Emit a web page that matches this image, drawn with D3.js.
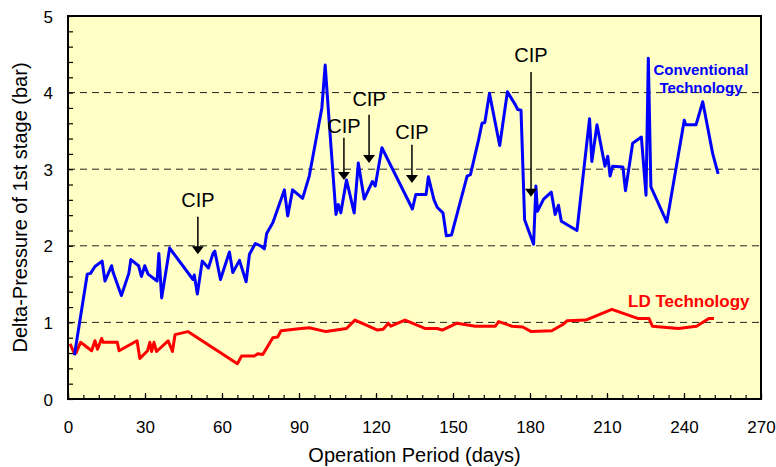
<!DOCTYPE html>
<html>
<head>
<meta charset="utf-8">
<script src="https://cdn.jsdelivr.net/npm/d3@7"></script>
<style>
  body { margin: 0; background: #fff; }
  svg text { font-family: "Liberation Sans", Arial, sans-serif; }
</style>
</head>
<body>
<svg id="chart" width="776" height="467"></svg>
<script>
// Conventional technology: [day, delta-pressure (bar)]
var conventional = [
  [2.5,0.57],[7.5,1.63],[8.8,1.64],[10.5,1.73],[13.3,1.80],[14.4,1.54],[17.0,1.74],[17.6,1.65],
  [20.8,1.35],[23.7,1.64],[24.5,1.82],[27.5,1.74],[28.6,1.60],[29.9,1.74],[31.2,1.63],[34.7,1.54],
  [35.4,1.90],[36.5,1.32],[39.6,1.97],[48.7,1.56],[49.2,1.62],[50.4,1.37],[52.3,1.80],[54.7,1.71],
  [56.5,1.90],[57.2,1.93],[59.4,1.56],[62.9,1.92],[64.2,1.65],[66.8,1.81],[69.4,1.53],[70.7,1.89],
  [73.0,2.03],[75.0,2.00],[76.5,1.96],[77.4,2.16],[79.8,2.30],[84.3,2.73],[85.6,2.39],[87.5,2.73],
  [91.4,2.62],[94.0,2.91],[98.9,3.80],[100.2,4.36],[101.8,3.60],[104.4,2.41],[105.3,2.54],[106.3,2.43],
  [108.5,2.86],[111.5,2.43],[113.1,3.08],[115.4,2.61],[118.6,2.84],[119.7,2.78],[122.3,3.28],[134.2,2.48],
  [135.5,2.67],[139.5,2.67],[140.4,2.90],[142.6,2.60],[143.9,2.50],[146.1,2.43],[147.4,2.13],[149.4,2.14],
  [155.5,2.91],[156.8,2.93],[160.0,3.39],[161.3,3.60],[162.4,3.61],[164.2,3.99],[168.2,3.31],[171.2,4.01],
  [174.3,3.84],[175.2,3.78],[176.5,3.77],[177.9,2.34],[181.4,2.02],[182.3,2.78],[182.9,2.45],[185.3,2.61],
  [188.3,2.70],[189.8,2.41],[191.1,2.53],[192.2,2.32],[198.3,2.20],[203.2,3.66],[204.1,3.10],[206.1,3.58],
  [209.2,3.04],[210.3,3.17],[211.2,2.91],[212.2,3.04],[216.2,3.03],[217.2,2.72],[220.0,3.34],[223.4,3.42],
  [225.2,2.66],[226.1,4.45],[227.1,2.77],[233.3,2.31],[240.1,3.64],[240.7,3.58],[244.7,3.58],[247.3,3.88],
  [251.2,3.20],[253.3,2.94]
];

// LD technology
var ld = [
  [0.8,0.72],[2.3,0.61],[3.1,0.60],[4.9,0.74],[9.2,0.63],[10.5,0.76],[11.5,0.65],[13.1,0.79],
  [13.7,0.74],[19.2,0.74],[19.9,0.63],[26.9,0.76],[28.0,0.53],[31.0,0.63],[31.9,0.74],[32.6,0.62],
  [33.5,0.74],[34.5,0.62],[39.0,0.76],[40.7,0.62],[41.7,0.84],[46.7,0.88],[66.0,0.46],[67.6,0.56],
  [72.6,0.56],[73.9,0.59],[75.9,0.58],[79.8,0.80],[81.7,0.81],[83.0,0.89],[90.8,0.92],[94.0,0.93],
  [100.5,0.88],[108.5,0.92],[111.8,1.03],[120.6,0.90],[122.8,0.91],[124.8,0.99],[125.8,0.95],[131.3,1.03],
  [139.3,0.92],[143.8,0.92],[145.8,0.90],[151.6,0.99],[158.7,0.95],[166.5,0.95],[167.8,1.01],[173.0,0.95],
  [177.2,0.94],[180.5,0.88],[188.5,0.89],[193.1,0.98],[194.4,1.02],[201.7,1.03],[211.9,1.17],[222.2,1.05],
  [226.4,1.05],[227.7,0.95],[237.8,0.92],[244.9,0.95],[249.7,1.05],[251.7,1.05]
];

// CIP marks: day, text baseline, arrow top, arrow tip (bar)
var cipDays = [50.6, 107.5, 117.3, 134.0, 180.4];
var cipText = [2.51, 3.47, 3.83, 3.39, 4.40];
var cipTop  = [2.38, 3.41, 3.71, 3.32, 4.27];
var cipTip  = [1.89, 2.86, 3.08, 2.82, 2.64];

var xTicks = d3.range(0, 271, 30);
var yTicks = [0, 1, 2, 3, 4, 5];
var gridLines = [1, 2, 3, 4];

var margin = {top: 16, right: 15, bottom: 68, left: 68},
    svg = d3.select("#chart"),
    width = 776 - margin.left - margin.right,
    height = 467 - margin.top - margin.bottom,
    g = svg.append("g").attr("transform", "translate(" + margin.left + "," + margin.top + ")");

var x = d3.scaleLinear().domain([0, 270]).range([0, width]);
var y = d3.scaleLinear().domain([0, 5]).range([height, 0]);

g.append("rect")
  .attr("width", width).attr("height", height)
  .style("fill", "#ffffc6");

// dashed grid
g.selectAll(".grid").data(gridLines).enter().append("line")
  .attr("x1", 0).attr("x2", width)
  .attr("y1", function(d) { return y(d); }).attr("y2", function(d) { return y(d); })
  .style("stroke", "#222").style("stroke-width", 1).style("stroke-dasharray", "7,5");

// minor ticks (inside)
g.append("g").attr("transform", "translate(0," + height + ")")
  .call(d3.axisTop(x).tickValues(d3.range(0, 271, 6)).tickSize(4).tickFormat(""))
  .call(function(a) { a.select(".domain").remove(); });
g.append("g").attr("transform", "translate(0," + height + ")")
  .call(d3.axisTop(x).tickValues(xTicks).tickSize(6).tickFormat(""))
  .call(function(a) { a.select(".domain").remove(); });
g.append("g")
  .call(d3.axisRight(y).tickValues(d3.range(0, 5.01, 0.2)).tickSize(5).tickFormat(""))
  .call(function(a) { a.select(".domain").remove(); });
g.selectAll(".tick line").style("stroke-width", 1.2);

// tick labels
var xa = g.append("g").attr("transform", "translate(0," + height + ")")
  .call(d3.axisBottom(x).tickValues(xTicks).tickSize(0).tickPadding(0));
xa.select(".domain").remove();
xa.selectAll("text").attr("dy", null).attr("y", 34)
  .style("font-size", "17px").style("fill", "#000");

var ya = g.append("g")
  .call(d3.axisLeft(y).tickValues(yTicks).tickSize(0).tickPadding(15).tickFormat(d3.format("d")));
ya.select(".domain").remove();
ya.selectAll("text").attr("dy", "0.36em")
  .style("font-size", "17px").style("fill", "#000");

// lines
var line = d3.line()
  .x(function(d) { return x(d[0]); })
  .y(function(d) { return y(d[1]); });

g.append("path").datum(ld).attr("d", line)
  .style("fill", "none").style("stroke", "#ff0000").style("stroke-width", 3).style("stroke-linejoin", "round");
g.append("path").datum(conventional).attr("d", line)
  .style("fill", "none").style("stroke", "#0000ff").style("stroke-width", 3).style("stroke-linejoin", "round");

// border
g.append("rect")
  .attr("width", width).attr("height", height)
  .style("fill", "none").style("stroke", "#000").style("stroke-width", 2);

// CIP annotations
cipDays.forEach(function(d, i) {
  var cx = x(d);
  g.append("text")
    .attr("x", cx).attr("y", y(cipText[i]))
    .attr("text-anchor", "middle")
    .style("font-size", "20px")
    .text("CIP");
  g.append("line")
    .attr("x1", cx).attr("x2", cx)
    .attr("y1", y(cipTop[i])).attr("y2", y(cipTip[i]) - 7)
    .style("stroke", "#000").style("stroke-width", 1.5);
  g.append("path")
    .attr("d", "M" + (cx - 6) + "," + (y(cipTip[i]) - 8) + "L" + (cx + 6) + "," + (y(cipTip[i]) - 8) +
               "L" + cx + "," + y(cipTip[i]) + "Z")
    .style("fill", "#000");
});

// series labels
var conv = svg.append("text")
  .attr("text-anchor", "middle")
  .style("font-size", "15px").style("font-weight", "bold").style("fill", "#0000ff");
conv.append("tspan").attr("x", 701).attr("y", 75).text("Conventional");
conv.append("tspan").attr("x", 701).attr("y", 93).text("Technology");

svg.append("text")
  .attr("x", 628).attr("y", 307)
  .style("font-size", "17px").style("font-weight", "bold").style("fill", "#ff0000")
  .text("LD Technology");

// axis titles
svg.append("text")
  .attr("x", margin.left + width / 2).attr("y", 462)
  .attr("text-anchor", "middle")
  .style("font-size", "20px")
  .text("Operation Period (days)");

svg.append("text")
  .attr("transform", "translate(27," + (margin.top + height / 2) + ") rotate(-90)")
  .attr("text-anchor", "middle")
  .style("font-size", "20px")
  .text("Delta-Pressure of 1st stage (bar)");
</script>
</body>
</html>
